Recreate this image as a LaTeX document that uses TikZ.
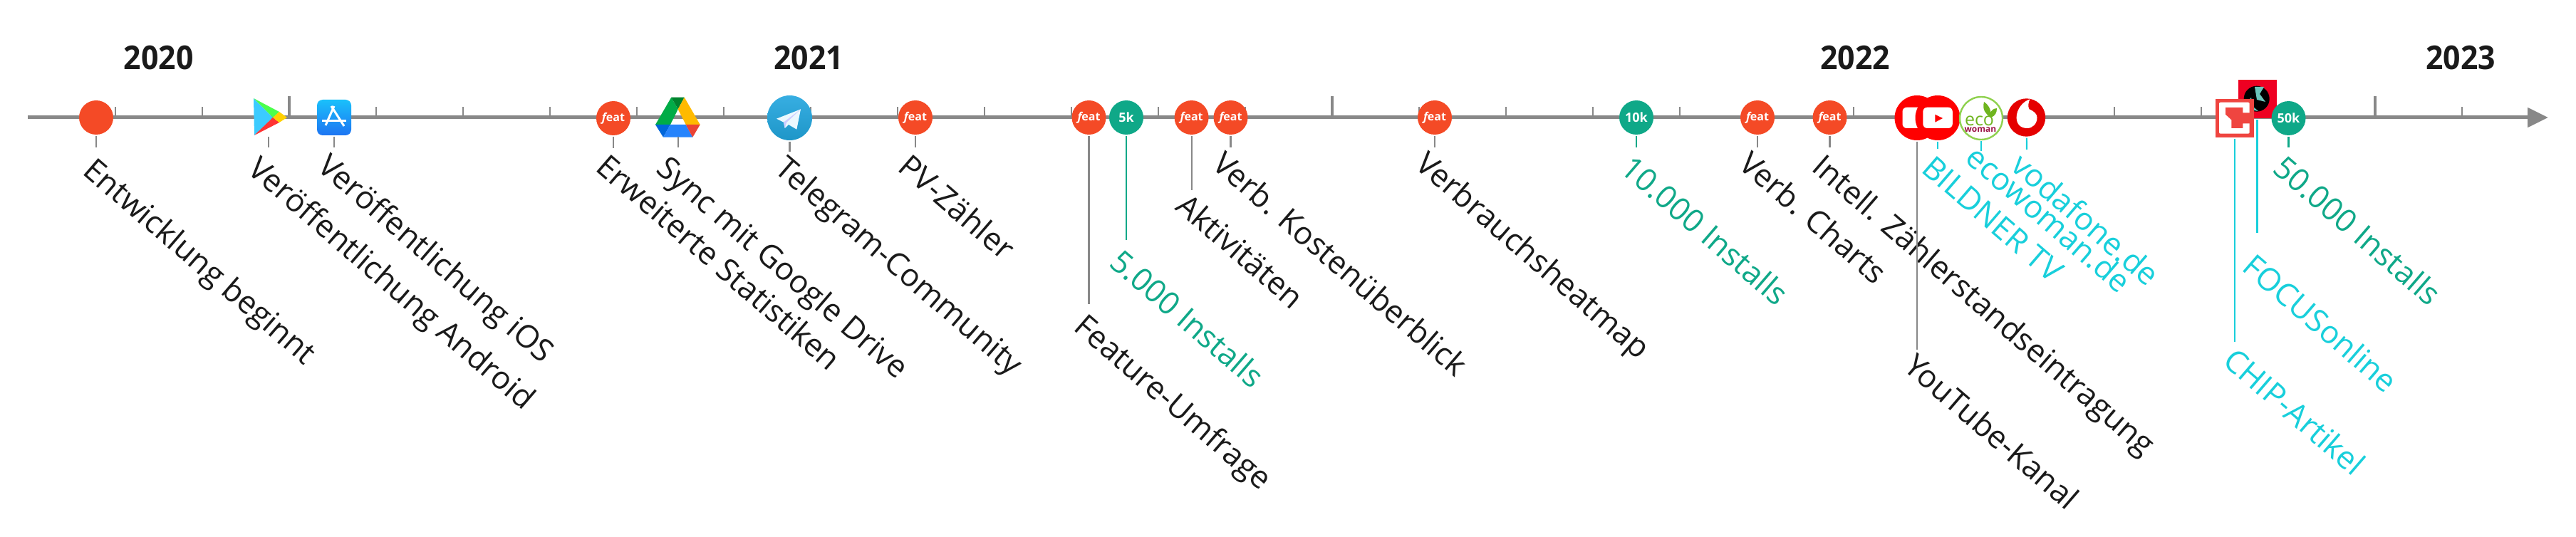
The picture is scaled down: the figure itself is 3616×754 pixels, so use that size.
\documentclass[tikz,border=0pt]{standalone}
\usepackage{fontspec}
\setmainfont{Open Sans}
\newfontfamily\yearfont[FakeStretch=0.93]{Open Sans}
\usetikzlibrary{arrows.meta}
\definecolor{featred}{HTML}{F44A26}
\definecolor{installgreen}{HTML}{0FA888}
\definecolor{presscyan}{HTML}{18CFDB}
\definecolor{axisgrey}{HTML}{888888}
\definecolor{labelblack}{HTML}{1A1A1A}
\definecolor{ytred}{HTML}{FF0000}
\definecolor{chipred}{HTML}{EF4540}
\definecolor{focusred}{HTML}{EE0022}
\definecolor{globeteal}{HTML}{6BC4BA}
\definecolor{ecogreen}{HTML}{6FB51F}
\definecolor{ecoring}{HTML}{8FD14F}
\definecolor{ecoplum}{HTML}{9B1246}
\definecolor{playblue}{HTML}{3BCBFF}
\definecolor{playgreen}{HTML}{4BFF4B}
\definecolor{playyellow}{HTML}{FFD000}
\definecolor{playred}{HTML}{FF3333}
\definecolor{appsttop}{HTML}{1AC0FB}
\definecolor{appstbot}{HTML}{1D74F2}
\definecolor{telegtop}{HTML}{37AEE2}
\definecolor{telegbot}{HTML}{1E96C8}
\newcommand{\featword}{{\itshape f}eat}
\begin{document}
\begin{tikzpicture}[
  x=0.5pt, y=-0.5pt,
  axis/.style={-{Triangle[length=14.5pt,width=13.5pt]}, color=axisgrey, line width=2.5pt},
  bigtick/.style={color=axisgrey, line width=1.6pt},
  smalltick/.style={color=axisgrey, line width=1.1pt},
  yearlabel/.style={font=\fontsize{23}{23}\yearfont\bfseries, text=labelblack, inner sep=0pt},
  blob/.style={circle, inner sep=0pt, outer sep=0pt, minimum size=24pt, text=white, font=\fontsize{8}{8}\selectfont\bfseries},
  featnode/.style={blob, fill=featred},
  startnode/.style={blob, fill=featred},
  installnode/.style={blob, fill=installgreen, font=\fontsize{9}{9}\selectfont\bfseries},
  iconnode/.style={rectangle, inner sep=0pt, outer sep=0pt, minimum width=24pt, minimum height=25pt},
  bignode/.style={circle, inner sep=0pt, outer sep=0pt, minimum size=31.5pt},
  txt/.style={rotate=-40.8, anchor=base west, inner sep=0pt, font=\fontsize{22}{22}\selectfont, text=labelblack},
  txtgreen/.style={txt, text=installgreen},
  txtcyan/.style={txt, text=presscyan},
  leadgrey/.style={color=axisgrey, line width=1.1pt, shorten <=1pt},
  leadgreen/.style={color=installgreen, line width=1.1pt, shorten <=1pt},
  leadcyan/.style={color=presscyan, line width=1.1pt, shorten <=1pt}
  ]

\useasboundingbox (0,0) rectangle (3616,754);

% axis and ticks
\coordinate (axstart) at (39,165);
\coordinate (axend) at (3577,165);
\draw [axis] (axstart) -- (axend);
\foreach \k in {0,...,27}
  \draw [smalltick] (162+122*\k,165) -- (162+122*\k,150);
\foreach \xtick in {406,1870,3334}
  \draw [bigtick] (\xtick,165) -- (\xtick,135);

% years
\node [yearlabel] (y2020) at (222.7,81) {2020};
\node [yearlabel] (y2021) at (1135,81) {2021};
\node [yearlabel] (y2022) at (2604,81) {2022};
\node [yearlabel] (y2023) at (3454,81) {2023};

% start
\node [startnode] (entw) at (135,165) {};
\coordinate (entwend) at (135,207);
\draw [leadgrey] (entw) -- (entwend);
\node [txt] (entwtxt) at (114,243) {Entwicklung beginnt};

% play store
\node [iconnode] (play) at (377,165) {};
\fill [playblue] (356,138) -- (383,165) -- (357,190) -- cycle;
\fill [playgreen] (356,138) -- (392,157) -- (383,165) -- cycle;
\fill [playred] (357,190) -- (383,165) -- (392,172) -- cycle;
\fill [playyellow] (392,157) -- (403,165) -- (392,172) -- (383,165) -- cycle;
\coordinate (playend) at (377,207);
\draw [leadgrey] (play) -- (playend);
\node [txt] (playtxt) at (345,241) {Veröffentlichung Android};

% app store
\node [iconnode] (appst) at (469,165) {};
\shade [top color=appsttop, bottom color=appstbot, rounded corners=4pt] (445,140) rectangle (493,190);
\draw [white, line width=1.5pt] (452,170) -- (486,170);
\draw [white, line width=1.5pt] (469,149) -- (457,176);
\draw [white, line width=1.5pt] (465,149) -- (483,177);
\coordinate (appstend) at (469,207);
\draw [leadgrey] (appst) -- (appstend);
\node [txt] (appsttxt) at (443,237) {Veröffentlichung iOS};

% first features
\node [featnode] (stats) at (861,166) {\featword};
\coordinate (statsend) at (861,208);
\draw [leadgrey] (stats) -- (statsend);
\node [txt] (statstxt) at (834,238) {Erweiterte Statistiken};

% drive
\node [iconnode] (drive) at (952,165) {};
\fill [color={rgb,255:red,0;green,172;blue,71}] (942.3,136.7) -- (951.7,153.3) -- (941,175) -- (920,175) -- cycle;
\fill [color={rgb,255:red,0;green,131;blue,45}] (942.3,136.7) -- (960.7,136.7) -- (951.7,153.3) -- cycle;
\fill [color={rgb,255:red,255;green,186;blue,0}] (960.7,136.7) -- (982.7,175) -- (962.7,175) -- (951.7,153.3) -- cycle;
\fill [color={rgb,255:red,0;green,102;blue,218}] (920,175) -- (941,175) -- (931,192.7) -- cycle;
\fill [color={rgb,255:red,38;green,132;blue,252}] (941,175) -- (962.7,175) -- (972.3,192.7) -- (931,192.7) -- cycle;
\fill [color={rgb,255:red,234;green,67;blue,53}] (962.7,175) -- (982.7,175) -- (972.3,192.7) -- cycle;
\coordinate (driveend) at (952,207);
\draw [leadgrey] (drive) -- (driveend);
\node [txt] (drivetxt) at (919,240) {Sync mit Google Drive};

% telegram
\node [bignode, top color=telegtop, bottom color=telegbot] (tele) at (1108.5,165.5) {};
\fill [color=white!92!cyan] (1124,153.3) -- (1090,166.7) -- (1100,171.7) -- (1101.7,180) -- (1107,175) -- (1118.3,181.7) -- cycle;
\fill [color=blue!20!white] (1100,171.7) -- (1124,153.3) -- (1104,172) -- (1101.7,180) -- cycle;
\coordinate (teleend) at (1108.5,213);
\draw [leadgrey] (tele) -- (teleend);
\node [txt] (teletxt) at (1085,240) {Telegram-Community};

% features and installs
\node [featnode] (pv) at (1285,165) {\featword};
\coordinate (pvend) at (1285,207);
\draw [leadgrey] (pv) -- (pvend);
\node [txt] (pvtxt) at (1258,238) {PV-Zähler};

\node [featnode] (umfr) at (1528.5,165) {\featword};
\coordinate (umfrend) at (1528.5,427);
\draw [leadgrey] (umfr) -- (umfrend);
\node [txt] (umfrtxt) at (1505,462) {Feature-Umfrage};

\node [installnode] (five) at (1581,165) {5k};
\coordinate (fiveend) at (1581,337);
\draw [leadgreen] (five) -- (fiveend);
\node [txtgreen] (fivetxt) at (1555,372) {5.000 Installs};

\node [featnode] (akt) at (1672.6,165) {\featword};
\coordinate (aktend) at (1672.6,267);
\draw [leadgrey] (akt) -- (aktend);
\node [txt] (akttxt) at (1648,293) {Aktivitäten};

\node [featnode] (kost) at (1727.5,165) {\featword};
\coordinate (kostend) at (1727.5,207);
\draw [leadgrey] (kost) -- (kostend);
\node [txt] (kosttxt) at (1699,234) {Verb. Kostenüberblick};

\node [featnode] (heat) at (2014,165) {\featword};
\coordinate (heatend) at (2014,207);
\draw [leadgrey] (heat) -- (heatend);
\node [txt] (heattxt) at (1984,234) {Verbrauchsheatmap};

\node [installnode] (ten) at (2297,165) {10k};
\coordinate (tenend) at (2297,207);
\draw [leadgreen] (ten) -- (tenend);
\node [txtgreen] (tentxt) at (2272,240) {10.000 Installs};

\node [featnode] (charts) at (2467,165) {\featword};
\coordinate (chartsend) at (2467,207);
\draw [leadgrey] (charts) -- (chartsend);
\node [txt] (chartstxt) at (2438,234) {Verb. Charts};

\node [featnode] (zstand) at (2568.5,165) {\featword};
\coordinate (zstandend) at (2568.5,207);
\draw [leadgrey] (zstand) -- (zstandend);
\node [txt] (zstandtxt) at (2541,238) {Intell. Zählerstandseintragung};

% youtube
\node [bignode, fill=ytred] (ytone) at (2691,165.5) {};
\fill [white, rounded corners=3pt] (2670.5,150.7) rectangle (2712,180);
\node [bignode, fill=ytred] (yttwo) at (2720,165.5) {};
\fill [white, rounded corners=3pt] (2699.3,150.7) rectangle (2740.8,180);
\fill [ytred] (2716.3,160.7) -- (2727,166) -- (2716.3,171.7) -- cycle;
\coordinate (ytoneend) at (2691,491);
\draw [leadgrey] (ytone) -- (ytoneend);
\node [txt] (ytonetxt) at (2670,518) {YouTube-Kanal};
\coordinate (yttwoend) at (2720,209);
\draw [leadcyan] (yttwo) -- (yttwoend);
\node [txtcyan] (yttwotxt) at (2695,240) {BILDNER TV};

% ecowoman
\node [bignode, fill=white, draw=ecoring, line width=1.2pt, minimum size=30pt] (eco) at (2781,166) {};
\node [text=ecogreen, inner sep=0pt, font=\fontsize{12.5}{12.5}\selectfont] (ecoword) at (2778.5,169.5) {eco};
\node [text=ecoplum, inner sep=0pt, font=\fontsize{6}{6}\selectfont\bfseries] (womanword) at (2780,182) {woman};
\fill [ecogreen] (2785,143) .. controls (2782,155) and (2788,160) .. (2794,165) .. controls (2796,155) and (2792,148) .. (2785,143) -- cycle;
\fill [ecogreen] (2803,152) .. controls (2794,153) and (2792,160) .. (2794,165) .. controls (2801,163) and (2803,158) .. (2803,152) -- cycle;
\coordinate (ecoend) at (2781,212);
\draw [leadcyan] (eco) -- (ecoend);
\node [txtcyan] (ecotxt) at (2756,225) {ecowoman.de};

% vodafone
\node [bignode, fill=ytred!90!black, minimum size=26.7pt] (voda) at (2844.5,165) {};
\fill [white] (2849.6,139.3) .. controls (2847,143) and (2846.5,150) .. (2848.4,153.3) .. controls (2855,156) and (2859.5,160) .. (2859.5,165) .. controls (2859.5,174) and (2853,180) .. (2845.6,180) .. controls (2836,180) and (2830.6,174) .. (2830.6,165) .. controls (2830.6,153) and (2840,142) .. (2849.6,139.3) -- cycle;
\coordinate (vodaend) at (2845,210);
\draw [leadcyan] (voda) -- (vodaend);
\node [txtcyan] (vodatxt) at (2820,236) {vodafone.de};

% focus
\node [rectangle, inner sep=0pt, outer sep=0pt, minimum size=27pt, fill=focusred] (focus) at (3168.5,139) {};
\fill [black] (3167.7,138.7) circle [radius=18];
\fill [globeteal] (3153,145) -- (3160,137) -- (3163,150) -- (3170,156) -- (3158,154) -- cycle;
\fill [globeteal] (3165,122) -- (3178,122) -- (3172,132) -- (3180,143) -- (3168,140) -- cycle;
\coordinate (focusend) at (3168.5,327);
\draw [leadcyan] (focus) -- (focusend);
\node [txtcyan] (focustxt) at (3145,378) {FOCUSonline};

% chip
\node [rectangle, inner sep=0pt, outer sep=0pt, minimum width=27pt, minimum height=27pt, fill=chipred] (chip) at (3137,166) {};
\fill [white, rounded corners=1pt] (3115,143.7) rectangle (3157.7,187.7);
\fill [chipred] (3124,151) -- (3148.3,151) -- (3148.3,158.3) -- (3163.3,158.3) -- (3163.3,173.3) -- (3148.3,173.3) -- (3148.3,180) -- (3132.3,180) -- (3132.3,168.3) -- (3124,160.7) -- cycle;
\coordinate (chipend) at (3137,480);
\draw [leadcyan] (chip) -- (chipend);
\node [txtcyan] (chiptxt) at (3118,510) {CHIP-Artikel};

% last install mark
\node [installnode] (fifty) at (3212.5,166) {50k};
\coordinate (fiftyend) at (3212.5,207);
\draw [leadgreen] (fifty) -- (fiftyend);
\node [txtgreen] (fiftytxt) at (3188,240) {50.000 Installs};

\end{tikzpicture}
\end{document}
